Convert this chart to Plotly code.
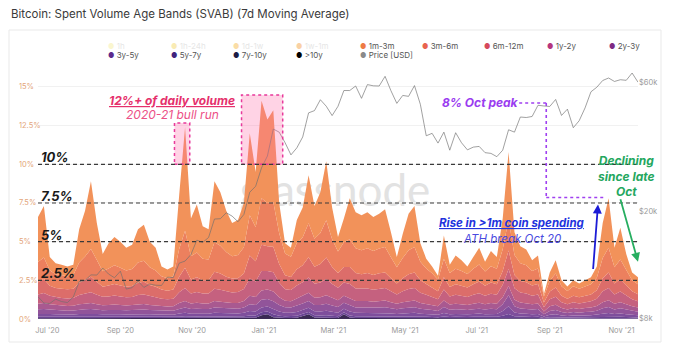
import plotly.graph_objects as go
import pandas as pd

# ---------------- data ----------------
dates = pd.date_range("2020-06-23", periods=103, freq="5D")

age_1m_3m = [2.92, 3.32, .85, .7, .65, .63, .65, 2.15, 2.96, 4.37,
             2.39, 1.11, 1.64, 1.83, 1.69, 1.47, 1.57, 2.15, 2.34, 1.66,
             1.47, .64, .57, .64, 3.47, 6.69, 2.45, 3.1, 2.1, 1.95,
             3.94, 3.46, 2.67, 2.14, 2.26, 2.86, 5.29, 3.57, 6.3, 5.4,
             5.93, 1.95, .67, .58, 1.48, 1.92, 3.11, 2.12, 2.64, 3.82,
             2.04, .93, 1.54, 2.64, 2.33, 2.25, 2.33, 2.21, 2.25, 2.44,
             1.61, .66, 1.56, 2.36, 2.64, 1.2, .64, .45, .26, 1.5,
             .53, .85, .69, .49, .75, 1.08, .63, .99, .75, 1.99,
             4.37, 1.46, 1.09, 1.03, .69, .84, .14, .53, .86, .39,
             .29, .39, .35, .39, .46, .74, 2.26, 3.19, 1.25, 2.06,
             1.01, .49, .45]
age_3m_6m = [1.3, 1.4, 1.0, .9, .9, .85, .9, 1.3, 1.5, 1.8,
             1.4, 1.0, 1.1, 1.2, 1.15, 1.05, 1.1, 1.3, 1.35, 1.15,
             1.05, .85, .8, .85, 1.8, 2.4, 1.5, 1.6, 1.4, 1.35,
             1.9, 1.8, 1.6, 1.45, 1.5, 1.7, 2.6, 2.2, 3.0, 2.8,
             2.9, 2.0, 1.4, 1.3, 1.7, 1.8, 2.2, 1.8, 2.0, 2.4,
             1.8, 1.4, 1.6, 1.8, 1.6, 1.55, 1.6, 1.55, 1.6, 1.65,
             1.35, 1.05, 1.3, 1.55, 1.65, 1.2, 1.0, .9, .75, 1.2,
             .9, 1.0, .95, .88, 1.0, 1.1, .92, 1.05, 1.0, 1.4,
             2.0, 1.3, 1.15, 1.1, .95, 1.0, .4, .7, .9, .6,
             .5, .6, .55, .6, .65, .8, 1.3, 1.6, 1.05, 1.25,
             .98, .72, .65]
age_6m_12m = [.8, .9, .65, .6, .6, .6, .6, .8, .9, 1.0,
              .85, .65, .7, .75, .7, .68, .7, .8, .82, .72,
              .68, .6, .56, .6, 1.0, 1.3, .9, .95, .85, .85,
              1.1, 1.05, .95, .9, .9, 1.0, 1.5, 1.3, 1.7, 1.6,
              1.65, 1.2, .9, .85, 1.05, 1.1, 1.3, 1.1, 1.2, 1.4,
              1.1, .95, 1.0, 1.1, 1.0, .95, 1.0, .95, .98, 1.0,
              .85, .7, .85, .95, 1.0, .8, .7, .62, .52, .8,
              .62, .68, .65, .6, .68, .75, .64, .72, .68, .9,
              1.2, .85, .75, .72, .65, .68, .3, .5, .6, .42,
              .36, .42, .4, .42, .45, .55, .85, 1.0, .72, .82,
              .68, .52, .46]
age_1y_2y = [.6, .65, .55, .5, .5, .48, .5, .6, .65, .7,
             .6, .55, .55, .58, .55, .52, .53, .6, .62, .56,
             .52, .48, .46, .48, .7, .85, .65, .7, .65, .65,
             .8, .78, .72, .68, .7, .78, 1.1, 1.0, 1.25, 1.2,
             1.25, .95, .75, .72, .85, .9, 1.0, .9, .95, 1.05,
             .9, .8, .85, .9, .8, .78, .8, .78, .8, .82,
             .7, .6, .7, .78, .82, .66, .58, .52, .45, .7,
             .52, .58, .55, .52, .58, .62, .55, .6, .58, .8,
             1.1, .75, .65, .62, .55, .58, .27, .45, .52, .38,
             .33, .38, .35, .38, .4, .47, .7, .8, .6, .68,
             .58, .45, .4]
age_2y_3y = [.35, .38, .34, .32, .3, .3, .3, .34, .36, .38,
             .35, .32, .33, .34, .33, .32, .33, .34, .35, .33,
             .32, .3, .3, .3, .38, .42, .36, .38, .36, .36,
             .42, .4, .38, .37, .38, .42, .55, .52, .6, .6,
             .62, .5, .42, .4, .46, .48, .52, .48, .5, .54,
             .48, .44, .46, .48, .42, .42, .42, .4, .42, .43,
             .4, .36, .4, .42, .43, .38, .35, .33, .3, .42,
             .34, .36, .35, .33, .36, .38, .35, .38, .36, .45,
             .6, .42, .38, .37, .35, .36, .18, .3, .34, .26,
             .23, .26, .24, .26, .27, .3, .4, .44, .36, .4,
             .35, .3, .27]
age_3y_5y = [.3, .3, .28, .27, .26, .25, .26, .28, .3, .3,
             .28, .27, .27, .28, .27, .27, .27, .28, .29, .27,
             .27, .25, .24, .25, .3, .34, .3, .31, .3, .3,
             .34, .33, .32, .31, .31, .34, .45, .42, .5, .5,
             .52, .42, .36, .35, .4, .4, .44, .4, .42, .45,
             .4, .37, .38, .4, .35, .35, .35, .34, .35, .36,
             .33, .3, .33, .35, .36, .32, .3, .28, .25, .4,
             .29, .3, .3, .28, .3, .32, .3, .32, .3, .45,
             .7, .4, .33, .32, .3, .31, .15, .25, .28, .22,
             .19, .22, .2, .22, .23, .26, .34, .38, .3, .34,
             .3, .25, .23]
age_5y_7y = [.18, .2, .18, .17, .16, .16, .16, .18, .18, .2,
             .18, .17, .17, .17, .17, .16, .17, .18, .18, .17,
             .16, .15, .15, .15, .2, .22, .19, .2, .19, .19,
             .22, .21, .2, .2, .2, .22, .28, .27, .32, .32,
             .33, .27, .22, .22, .25, .26, .28, .26, .27, .29,
             .26, .23, .24, .25, .22, .22, .22, .21, .22, .22,
             .2, .18, .2, .21, .22, .19, .18, .17, .15, .22,
             .17, .18, .18, .17, .18, .2, .18, .19, .18, .3,
             .5, .25, .2, .19, .18, .18, .09, .15, .17, .13,
             .11, .13, .12, .13, .14, .16, .2, .22, .18, .2,
             .17, .15, .14]
age_7y_10y = [.1, .1, .1, .1, .09, .09, .09, .1, .1, .1,
              .1, .09, .1, .1, .1, .09, .09, .1, .1, .1,
              .09, .09, .08, .09, .1, .12, .1, .11, .1, .1,
              .12, .11, .11, .1, .1, .12, .15, .14, .18, .18,
              .18, .14, .12, .12, .13, .14, .15, .14, .14, .15,
              .14, .12, .13, .13, .12, .12, .12, .11, .12, .12,
              .11, .1, .11, .12, .12, .1, .1, .09, .08, .11,
              .09, .1, .09, .09, .1, .1, .09, .1, .1, .15,
              .25, .12, .1, .1, .09, .1, .05, .08, .09, .07,
              .06, .07, .06, .07, .07, .08, .1, .11, .09, .1,
              .09, .08, .07]
age_10y_plus = [.05, .05, .05, .04, .04, .04, .04, .05, .05, .05,
                .05, .04, .04, .05, .04, .04, .04, .05, .05, .04,
                .04, .04, .04, .04, .05, .06, .05, .05, .05, .05,
                .06, .06, .05, .05, .05, .06, .08, .08, .25, .3,
                .12, .07, .06, .06, .08, .2, .3, .1, .08, .1,
                .08, .06, .3, .1, .06, .06, .06, .05, .06, .06,
                .05, .05, .05, .06, .06, .05, .05, .04, .04, .05,
                .04, .05, .04, .04, .05, .05, .04, .05, .05, .06,
                .08, .05, .05, .05, .04, .05, .02, .04, .04, .03,
                .03, .03, .03, .03, .03, .04, .05, .06, .05, .05,
                .04, .04, .03]
price_usd = [9630, 9120, 9090, 9430, 9240, 9160, 9600, 10950, 11060, 11600,
             11580, 12300, 11680, 11320, 11970, 10280, 10400, 11000, 10420, 10730,
             10620, 10600, 11380, 11330, 12820, 13050, 13800, 15600, 15300, 15960,
             18680, 18730, 19700, 19150, 18250, 19420, 23480, 24700, 28900, 31970,
             40250, 39190, 35830, 32290, 34270, 37620, 46200, 47100, 51680, 48900,
             45140, 48870, 55900, 55900, 58100, 52300, 58800, 58200, 58100, 63100,
             55800, 50100, 53600, 53200, 58300, 49700, 38000, 38800, 35700, 39200,
             33600, 39000, 35800, 33700, 34500, 34700, 32900, 32700, 31800, 33600,
             40000, 39200, 44600, 44400, 44800, 49300, 49000, 48800, 51800, 45200,
             47700, 40700, 43200, 48200, 55300, 57500, 60900, 62200, 60400, 61300,
             61000, 64900, 60000]

legend_row1 = ["1h", "1h-24h", "1d-1w", "1w-1m", "1m-3m", "3m-6m", "6m-12m", "1y-2y", "2y-3y"]
legend_row2 = ["3y-5y", "5y-7y", "7y-10y", ">10y", "Price [USD]"]
hidden_bands = ["1h", "1h-24h", "1d-1w", "1w-1m"]

x_tick_vals = ["2020-07-01", "2020-09-01", "2020-11-01", "2021-01-01", "2021-03-01",
               "2021-05-01", "2021-07-01", "2021-09-01", "2021-11-01"]
x_tick_text = ["Jul '20", "Sep '20", "Nov '20", "Jan '21", "Mar '21",
               "May '21", "Jul '21", "Sep '21", "Nov '21"]
pct_tick_vals = [0, 2.5, 5, 7.5, 10, 12.5, 15]
pct_tick_text = ["0%", "2.5%", "5%", "7.5%", "10%", "12.5%", "15%"]
price_tick_vals = [8000, 20000, 60000]
price_tick_text = ["$8k", "$20k", "$60k"]
level_vals = [2.5, 5, 7.5, 10]
level_text = ["2.5%", "5%", "7.5%", "10%"]

# ---------------- geometry helpers ----------------
W, H = 673, 348
ML, MR, MT, MB = 38, 35, 65, 29
PW, PH = W - ML - MR, H - MT - MB


def xp(px):
    return (px - ML) / PW


def yp(py):
    return (H - MB - py) / PH


FONT = "Inter, Roboto, sans-serif"

bands = [
    (">10y", age_10y_plus, "#3A2A55"),
    ("7y-10y", age_7y_10y, "#6A4594"),
    ("5y-7y", age_5y_7y, "#7E4E9C"),
    ("3y-5y", age_3y_5y, "#91549A"),
    ("2y-3y", age_2y_3y, "#A95990"),
    ("1y-2y", age_1y_2y, "#C5617F"),
    ("6m-12m", age_6m_12m, "#DC6D6A"),
    ("3m-6m", age_3m_6m, "#EC805E"),
    ("1m-3m", age_1m_3m, "#F2925A"),
]

legend_colors = {
    "1h": "#F6EC96", "1h-24h": "#F2D55A", "1d-1w": "#F5B63C", "1w-1m": "#F39A38",
    "1m-3m": "#EE7B45", "3m-6m": "#E8644F", "6m-12m": "#D64A5C", "1y-2y": "#B5367E",
    "2y-3y": "#7E2A84", "3y-5y": "#5B2A8C", "5y-7y": "#40247D", "7y-10y": "#1C1B44",
    ">10y": "#000000", "Price [USD]": "#8A8A8A",
}

fig = go.Figure()
for name, vals, col in bands:
    fig.add_trace(go.Scatter(
        x=dates, y=vals, name=name, mode="lines", stackgroup="svab",
        line=dict(width=0, color=col), fillcolor=col, showlegend=False,
        hoverinfo="skip"))

fig.add_trace(go.Scatter(
    x=dates, y=price_usd, name="Price [USD]", mode="lines", yaxis="y2",
    line=dict(color="rgba(110,110,110,0.65)", width=1), showlegend=False,
    hoverinfo="skip"))

shapes = []
# card border
shapes.append(dict(type="rect", xref="paper", yref="paper", x0=xp(9), x1=xp(661),
                   y0=yp(342), y1=yp(30), line=dict(color="#e9e9e9", width=1),
                   layer="below"))
# watermark
shapes.append(dict(type="rect", xref="paper", yref="paper", x0=xp(200), x1=xp(470),
                   y0=yp(210), y1=yp(165), line=dict(width=0), layer="below",
                   label=dict(text="glassnode", font=dict(size=44, color="#e2e2e2",
                                                          family="Lato, sans-serif"))))
# pink highlight boxes
for x0, x1, y1 in [("2020-10-17", "2020-10-30", 12.67), ("2020-12-13", "2021-01-17", 14.48)]:
    shapes.append(dict(type="rect", xref="x", yref="y", x0=x0, x1=x1, y0=10, y1=y1,
                       fillcolor="rgba(255,110,170,0.30)",
                       line=dict(color="#E8399B", width=1.5, dash="dot"), layer="above"))
# level dashed lines
for v in level_vals:
    shapes.append(dict(type="line", xref="paper", yref="y", x0=0, x1=1, y0=v, y1=v,
                       line=dict(color="#3a3a3a", width=1.2, dash="4px,3px"), layer="above"))
# purple dotted path for Oct peak
purple = "#A040F0"
for x0, x1, y0, y1 in [("2021-08-06", "2021-08-29", 13.96, 13.96),
                       ("2021-08-29", "2021-08-29", 13.96, 7.85),
                       ("2021-08-29", "2021-10-18", 7.85, 7.85)]:
    shapes.append(dict(type="line", xref="x", yref="y", x0=x0, x1=x1, y0=y0, y1=y1,
                       line=dict(color=purple, width=1.6, dash="dot"), layer="above"))

ann = []
# left tick labels (left-aligned)
for v, t in zip(pct_tick_vals, pct_tick_text):
    ann.append(dict(x=xp(17), xref="paper", y=v, yref="y", text=t, showarrow=False,
                    xanchor="left", yanchor="middle",
                    font=dict(size=7.5, color="#E3A57A", family=FONT)))
# level labels
for v, t in zip(level_vals, level_text):
    ann.append(dict(x=xp(39), xref="paper", y=v, yref="y", text=f"<b><i>{t}</i></b>",
                    showarrow=False, xanchor="left", yanchor="bottom", yshift=-3,
                    font=dict(size=13, color="#1a1a1a", family=FONT)))


def txt(px, py, text, color, size=12):
    ann.append(dict(x=xp(px), y=yp(py), xref="paper", yref="paper", text=text,
                    showarrow=False, xanchor="center", yanchor="middle",
                    font=dict(size=size, color=color, family=FONT)))


txt(172, 100, "<b><i><u>12%+ of daily volume</u></i></b>", "#E5306C")
txt(172, 114, "<i>2020-21 bull run</i>", "#EC4F86")
txt(480, 103, "<b><i>8% Oct peak</i></b>", "#9A3CF0")
txt(512, 223, "<b><i><u>Rise in >1m coin spending</u></i></b>", "#2233DD", 11.5)
txt(512, 239, "<i>ATH break Oct 20</i>", "#4A4AE0", 11.5)
ann.append(dict(x=xp(626), y=yp(176), xref="paper", yref="paper",
                text="<b><i>Declining<br>since late<br>Oct</i></b>", showarrow=False,
                xanchor="center", yanchor="middle", align="center",
                font=dict(size=12, color="#24A75E", family=FONT)))

# arrows
ann.append(dict(x="2021-10-12", y=7.4, xref="x", yref="y", text="", showarrow=True,
                ax=-5, ay=66, arrowhead=2, arrowsize=1, arrowwidth=1.8,
                arrowcolor="#1c1cd6"))
ann.append(dict(x="2021-11-15", y=3.7, xref="x", yref="y", text="", showarrow=True,
                ax=-18, ay=-64, arrowhead=2, arrowsize=1, arrowwidth=1.8,
                arrowcolor="#27AE60"))

# custom legend (two tight rows)
row_x = [109, 172, 234, 297, 361, 423, 485, 548, 610]
for row, py in [(legend_row1, 46), (legend_row2, 54.5)]:
    for name, cx in zip(row, row_x):
        faded = name in hidden_bands
        dot = legend_colors[name]
        op = 0.45 if faded else 1.0
        tcol = "#c8c8c8" if faded else "#555555"
        ann.append(dict(x=xp(cx - 3), y=yp(py), xref="paper", yref="paper",
                        text=f'<span style="color:{dot};font-size:7px">●</span> '
                             f'<span style="color:{tcol}">{name}</span>',
                        showarrow=False, xanchor="left", yanchor="middle", opacity=op,
                        font=dict(size=8, color=tcol, family=FONT)))

fig.update_layout(
    width=W, height=H,
    margin=dict(l=ML, r=MR, t=MT, b=MB),
    paper_bgcolor="white", plot_bgcolor="white",
    showlegend=False, hovermode=False,
    title=dict(text="Bitcoin: Spent Volume Age Bands (SVAB) (7d Moving Average)",
               x=11 / W, xref="container", xanchor="left",
               y=1 - 14 / H, yref="container", yanchor="middle",
               font=dict(size=11.5, color="#3a3a3a", family=FONT)),
    xaxis=dict(type="date", range=["2020-06-23", "2021-11-15"],
               tickvals=x_tick_vals, ticktext=x_tick_text,
               showgrid=False, zeroline=False, showline=False,
               ticks="outside", ticklen=4, tickcolor="rgba(0,0,0,0)",
               tickfont=dict(size=7.5, color="#9a9a9a", family=FONT)),
    yaxis=dict(range=[0, PH / 15.47], tickvals=pct_tick_vals, showticklabels=False,
               showgrid=True, gridcolor="#f1f1f1", zeroline=False, showline=False,
               ticks=""),
    yaxis2=dict(type="log", overlaying="y", side="right",
                range=[3.901, 4.842], tickvals=price_tick_vals, ticktext=price_tick_text,
                showgrid=False, zeroline=False, showline=False, ticks="",
                tickfont=dict(size=7.5, color="#9a9a9a", family=FONT)),
    shapes=shapes, annotations=ann,
)

fig.write_html("out.html")
